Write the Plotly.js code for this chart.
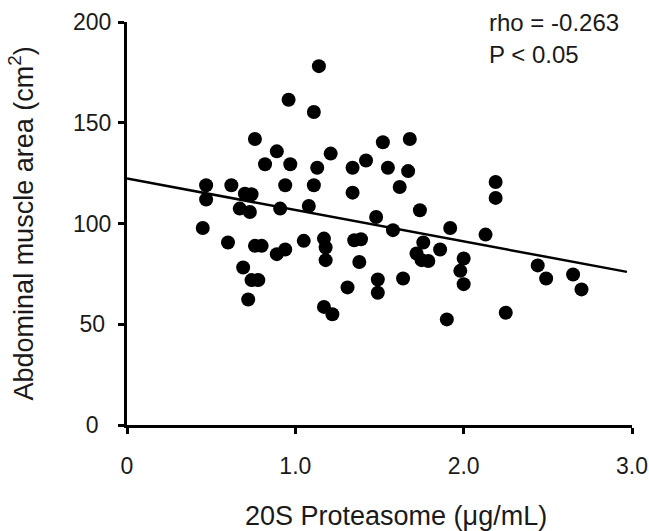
<!DOCTYPE html>
<html>
<head>
<meta charset="utf-8">
<script src="https://cdn.plot.ly/plotly-3.0.1.min.js"></script>
<style>html,body{margin:0;padding:0;background:#fff;}#chart{width:649px;height:531px;}</style>
</head>
<body>
<div id="chart"></div>
<script>
// 20S proteasome (µg/mL)
const proteasome = [1.14,0.96,1.11,0.76,0.89,0.82,0.97,1.21,1.13,1.34,1.42,1.52,1.68,1.55,1.67,1.62,2.19,2.19,
  0.47,0.62,0.94,1.11,1.34,0.47,0.70,0.74,0.67,0.73,0.91,1.08,1.48,1.74,1.58,1.92,2.13,0.45,0.60,0.76,0.80,0.89,
  0.94,1.05,1.17,1.18,1.18,1.35,1.39,1.38,0.69,0.74,0.78,0.72,1.31,1.17,1.22,1.49,1.49,1.76,1.86,1.72,1.75,1.79,
  2.00,1.98,2.00,1.64,2.44,2.49,2.65,2.70,1.90,2.25];
// Abdominal muscle area (cm²)
const muscleArea = [178.1,161.4,155.3,141.9,135.8,129.4,129.4,134.7,127.7,127.7,131.3,140.3,141.9,127.7,126.0,118.1,120.6,112.7,
  119.0,119.0,119.0,119.0,115.3,111.9,114.8,114.5,107.4,105.7,107.4,108.7,103.2,106.6,96.7,97.8,94.5,97.8,90.6,88.9,88.9,84.8,
  87.1,91.4,92.5,88.1,81.8,91.7,92.2,80.9,78.2,71.9,71.9,62.3,68.3,58.6,55.0,72.2,65.6,90.6,87.1,85.1,81.8,81.4,
  82.6,76.5,69.9,72.7,79.2,72.7,74.7,67.3,52.4,55.7];
// regression line end points
const fitX = [0, 2.97];
const fitY = [122.3, 76.0];
const xTickVals = [0, 1, 2, 3];
const xTickText = ['0', '1.0', '2.0', '3.0'];
const yTickVals = [0, 50, 100, 150, 200];
const yTickText = ['0', '50', '100', '150', '200'];
const statsText = ['rho = -0.263', 'P < 0.05'];
const xTitle = '20S Proteasome (μg/mL)';
const yTitle = 'Abdominal muscle area (cm<sup>2</sup>)';

const FONT = 'Liberation Sans, Arial, Helvetica, sans-serif';
const NB = '\u00a0';
// labels in the reference are centred under each other; pad short ones by half the missing width
const yTickShown = yTickText.map(t => t + NB.repeat(3 - t.length));

const traces = [
  {x: proteasome, y: muscleArea, type: 'scatter', mode: 'markers',
   marker: {color: '#000', size: 14, line: {width: 0}}, hoverinfo: 'x+y', cliponaxis: false},
  {x: fitX, y: fitY, type: 'scatter', mode: 'lines',
   line: {color: '#000', width: 2.5}, hoverinfo: 'skip'}
];

const layout = {
  width: 649, height: 531,
  margin: {l: 127, r: 17, t: 21.5, b: 106, pad: 0},
  paper_bgcolor: '#fff', plot_bgcolor: '#fff',
  showlegend: false,
  font: {family: FONT, color: '#1a1a1a', size: 23},
  xaxis: {
    range: [0, 3], tickmode: 'array', tickvals: xTickVals, ticktext: xTickText,
    showgrid: false, zeroline: false, showline: true, linecolor: '#000', linewidth: 3,
    ticks: 'outside', ticklen: 6, tickwidth: 3, tickcolor: '#000',
    ticklabelstandoff: 12,
    tickfont: {size: 23, family: FONT, color: '#1a1a1a'}
  },
  yaxis: {
    range: [0, 200], tickmode: 'array', tickvals: yTickVals, ticktext: yTickShown,
    showgrid: false, zeroline: false, showline: true, linecolor: '#000', linewidth: 3,
    ticks: 'outside', ticklen: 6, tickwidth: 3, tickcolor: '#000',
    ticklabelstandoff: 2,
    tickfont: {size: 23, family: FONT, color: '#1a1a1a'}
  },
  annotations: [
    {xref: 'paper', yref: 'paper', x: 0.532, y: -0.2255, xanchor: 'center', yanchor: 'middle',
     text: xTitle, showarrow: false, font: {size: 27, family: FONT, color: '#1a1a1a'}},
    {xref: 'paper', yref: 'paper', x: -0.210, y: 0.5, xanchor: 'center', yanchor: 'middle',
     textangle: -90, text: yTitle, showarrow: false, font: {size: 27, family: FONT, color: '#1a1a1a'}},
    {xref: 'paper', yref: 'paper', x: 0.7133, y: 1.0, xanchor: 'left', yanchor: 'middle',
     text: statsText[0], showarrow: false, font: {size: 24, family: FONT, color: '#1a1a1a'}},
    {xref: 'paper', yref: 'paper', x: 0.7133, y: 0.92, xanchor: 'left', yanchor: 'middle',
     text: statsText[1], showarrow: false, font: {size: 24, family: FONT, color: '#1a1a1a'}}
  ]
};

Plotly.newPlot('chart', traces, layout, {displayModeBar: false, staticPlot: true});
</script>
</body>
</html>
